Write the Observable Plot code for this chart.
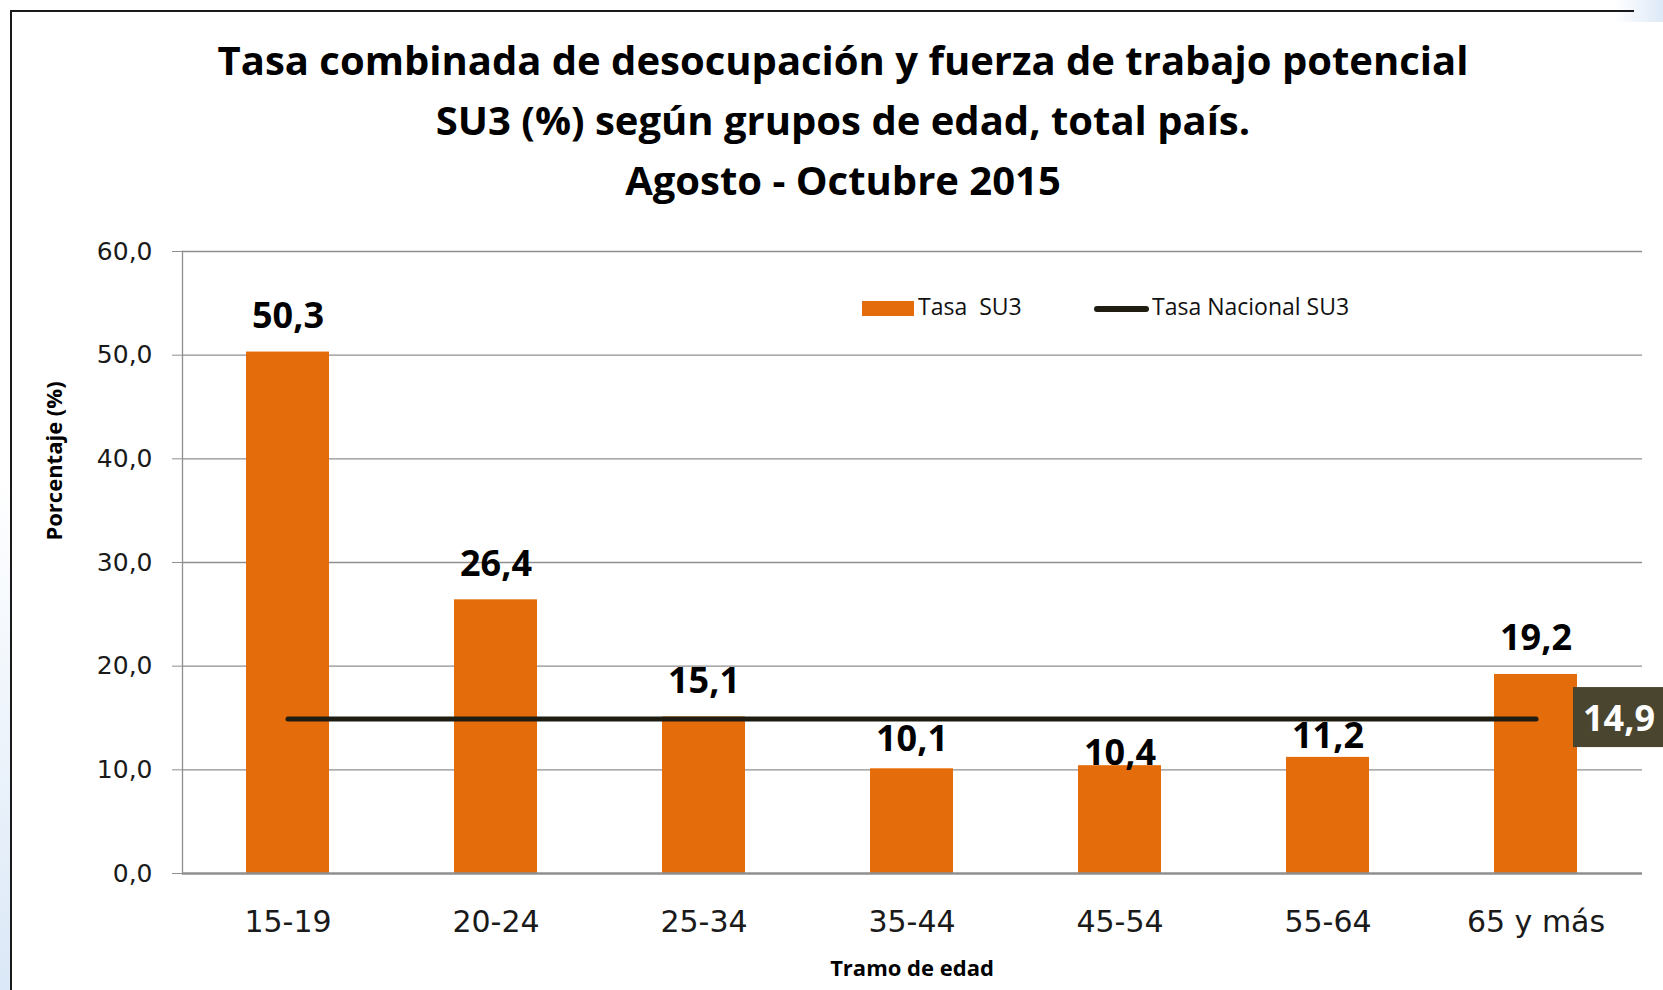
<!DOCTYPE html>
<html>
<head>
<meta charset="utf-8">
<script src="https://cdn.jsdelivr.net/npm/d3@7"></script>
<script src="https://cdn.jsdelivr.net/npm/@observablehq/plot@0.6"></script>
<style>
  html, body { margin: 0; padding: 0; background: #fff; }
  #wrap { position: relative; width: 1663px; height: 990px; overflow: hidden; background: #fff; }
  #chart { position: absolute; left: 0; top: 0; }
  .frame { position: absolute; left: 10px; top: 10px; width: 1622px; height: 1000px;
           border-left: 2px solid #1a1a1a; border-top: 2px solid #1a1a1a; }
  .glow-left { position: absolute; left: 0; top: 480px; width: 10px; height: 510px;
               background: linear-gradient(to bottom, rgba(221,233,247,0), #dbe8f7); }
  .glow-corner { position: absolute; left: 1615px; top: 0; width: 48px; height: 22px;
                 background: linear-gradient(to right, rgba(221,233,247,0), #dde9f7); }
  .title { position: absolute; left: 0; top: 30px; width: 1686px; text-align: center;
           font-family: "Open Sans", sans-serif; font-weight: 700; font-size: 40px;
           line-height: 60px; color: #000; }
  .legend { position: absolute; left: 0; top: 0; font-family: "Open Sans", sans-serif;
            font-size: 23px; color: #111; }
  .legend .sw { position: absolute; left: 862px; top: 301px; width: 52px; height: 15px; background: #E46C0A; }
  .legend .ln { position: absolute; left: 1094px; top: 306px; width: 55px; height: 6px;
                border-radius: 3px; background: #1f1d12; }
  .legend .t1 { position: absolute; left: 918px; top: 295px; line-height: 23px; white-space: pre; }
  .legend .t2 { position: absolute; left: 1152px; top: 295px; line-height: 23px; white-space: pre; }
  .axt { position: absolute; font-family: "Open Sans", sans-serif; font-weight: 700; font-size: 22px;
         color: #000; white-space: nowrap; line-height: 30px; }
  .ylab { left: 53px; top: 461px; transform: translate(-50%, -50%) rotate(-90deg); }
  .xlab { left: 912px; top: 967px; transform: translate(-50%, -50%); }
</style>
</head>
<body>
<div id="wrap">
  <div id="chart"></div>
  <div class="glow-left"></div>
  <div class="glow-corner"></div>
  <div class="frame"></div>
  <div class="title">Tasa combinada de desocupación y fuerza de trabajo potencial<br>SU3 (%) según grupos de edad, total país.<br>Agosto - Octubre 2015</div>
  <div class="legend">
    <div class="sw"></div><div class="t1">Tasa  SU3</div>
    <div class="ln"></div><div class="t2">Tasa Nacional SU3</div>
  </div>
  <div class="axt ylab">Porcentaje (%)</div>
  <div class="axt xlab">Tramo de edad</div>
</div>
<script>
// ---- data ----
const categories = ["15-19", "20-24", "25-34", "35-44", "45-54", "55-64", "65 y más"];
const tasaSU3 = [50.3, 26.4, 15.1, 10.1, 10.4, 11.2, 19.2];
const tasaNacional = [14.9, 14.9, 14.9, 14.9, 14.9, 14.9, 14.9];
const yTicks = [0, 10, 20, 30, 40, 50, 60];

const data = categories.map((c, i) => ({grupo: c, tasa: tasaSU3[i], nacional: tasaNacional[i]}));
const fmt = v => v.toFixed(1).replace(".", ",");

// label lift above bar top (px), some moved to avoid the national line
const lift = {"35-44": 18, "45-54": 1, "55-64": 9};
const liftOf = d => (d.grupo in lift ? lift[d.grupo] : 24);

const orange = "#E46C0A";
const grid = "#8f8f8f";

const chart = Plot.plot({
  width: 1663,
  height: 990,
  marginLeft: 182,
  marginRight: 21,
  marginTop: 251,
  marginBottom: 117,
  style: {fontFamily: "'DejaVu Sans', sans-serif", fontSize: "25px", color: "#1a1a1a", background: "transparent", overflow: "visible"},
  x: {domain: categories, paddingInner: 0.6, paddingOuter: 0.3, label: null},
  y: {domain: [0, 60], label: null},
  marks: [
    Plot.ruleY(yTicks.slice(1), {stroke: grid, strokeWidth: 1.3}),
    Plot.axisY({ticks: yTicks, tickSize: 10, tickPadding: 20, tickFormat: fmt, stroke: grid, fill: "#1a1a1a", fontSize: 25, label: null}),
    Plot.axisX({tickSize: 0, tickPadding: 37, fontSize: 30, fill: "#1a1a1a", label: null}),
    Plot.frame({anchor: "left", stroke: grid, strokeWidth: 1.3}),
    Plot.barY(data, {x: "grupo", y: "tasa", fill: orange}),
    Plot.ruleY([0], {stroke: grid, strokeWidth: 2.6}),
    Plot.lineY(data, {x: "grupo", y: "nacional", stroke: "#1f1d12", strokeWidth: 5, strokeLinecap: "round"}),
    ...data.map(d => Plot.text([d], {
      x: "grupo", y: "tasa", text: r => fmt(r.tasa), lineAnchor: "bottom", dy: -liftOf(d),
      fontFamily: "'Open Sans', sans-serif", fontWeight: 700, fontSize: 36, fill: "#000"
    })),
    Plot.text([data[data.length - 1]], {
      x: "grupo", y: "nacional", text: r => fmt(r.nacional), textAnchor: "start", lineAnchor: "middle", dx: 47,
      fontFamily: "'Open Sans', sans-serif", fontWeight: 700, fontSize: 36, fill: "#fff",
      ariaLabel: () => "nacional-label", ariaDescription: "nacional-label"
    })
  ]
});
document.getElementById("chart").appendChild(chart);

// background box for the national value label
const yScale = chart.scale("y");
const lineY = yScale.apply(tasaNacional[tasaNacional.length - 1]);
let tnode = chart.querySelector('text[aria-label="nacional-label"]');
if (!tnode) {
  const gd = chart.querySelector('g[aria-description="nacional-label"]');
  if (gd) tnode = gd.querySelector("text");
}
if (!tnode) {
  tnode = Array.from(chart.querySelectorAll("text")).find(n => n.textContent === "14,9");
}
if (tnode) {
  const bb = tnode.getBBox();
  const ns = "http://www.w3.org/2000/svg";
  const r = document.createElementNS(ns, "rect");
  r.setAttribute("x", bb.x - 10);
  r.setAttribute("y", lineY - 30);
  r.setAttribute("width", 200);
  r.setAttribute("height", 60);
  r.setAttribute("fill", "#4a452f");
  const tr = tnode.getAttribute("transform");
  if (tr) r.setAttribute("transform", tr);
  tnode.parentNode.insertBefore(r, tnode);
  // rect coords were computed in the text's local frame
  r.setAttribute("y", bb.y + bb.height / 2 - 30);
}
</script>
</body>
</html>
